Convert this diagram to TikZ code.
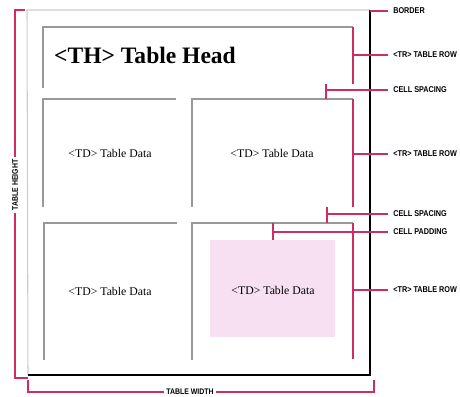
\documentclass[tikz,border=0pt]{standalone}
\usepackage{fontspec}
\setmainfont{Liberation Serif}
\newfontfamily\labelfont[FakeStretch=0.86]{Liberation Sans}
\usetikzlibrary{positioning}
\definecolor{leader}{RGB}{205,45,100}
\definecolor{padfill}{RGB}{246,224,242}

\begin{document}
\begin{tikzpicture}[
    x=0.02cm, y=-0.02cm,
    cellline/.style={draw=black!40, line width=0.6pt},
    bracket/.style={draw=leader, line width=0.6pt},
    tag/.style={anchor=west, inner sep=0pt, font=\labelfont\bfseries\fontsize{4.8}{5}\selectfont},
    tdtext/.style={font=\fontsize{6.7}{8}\selectfont},
    dimtext/.style={fill=white, inner sep=1.5pt, font=\labelfont\bfseries\fontsize{4.6}{5}\selectfont}
]
\useasboundingbox (0,0) rectangle (460,396);

% outer table and border
\draw[black!20, line width=0.6pt] (28,375) -- (27,10) -- (370,10);
\draw[line width=1.7pt] (370,10) -- (370,375) -- (28,375);

% cells: top and left edges only
\draw[cellline] (43,88) |- (353,27);
\draw[cellline] (43,207) |- (176,99);
\draw[cellline] (192,207) |- (353,99);
\draw[cellline] (44,360) |- (177,223);
\draw[cellline] (192,360) |- (353,223);
\fill[padfill] (210,240) rectangle (335,337);

\node[font=\bfseries\fontsize{13.4}{15}\selectfont] (head) at (145,55) {<TH> Table Head};
\node[tdtext] (td1) at (110,153) {<TD> Table Data};
\node[tdtext] (td2) at (272,153) {<TD> Table Data};
\node[tdtext] (td3) at (110,291) {<TD> Table Data};
\node[tdtext] (td4) at (273,290) {<TD> Table Data};

% labels on the right
\node[tag] (border) at (393,11) {BORDER};
\node[tag] (rowhead) at (393,55) {<TR> TABLE ROW};
\node[tag] (spacea) at (393,90) {CELL SPACING};
\node[tag] (rowa) at (393,154) {<TR> TABLE ROW};
\node[tag] (spaceb) at (393,214) {CELL SPACING};
\node[tag] (padding) at (393,232) {CELL PADDING};
\node[tag] (rowb) at (393,290) {<TR> TABLE ROW};

\coordinate (btop) at (370,11);
\coordinate (hmid) at (353,55);
\coordinate (sa) at (326,90);
\coordinate (ramid) at (353,154);
\coordinate (sb) at (327,214);
\coordinate (pad) at (273,232);
\coordinate (rbmid) at (353,290);

\draw[bracket] (353,27) -- (353,84);
\draw[bracket] (326,84) -- (326,99);
\draw[bracket] (353,99) -- (353,207);
\draw[bracket] (327,207) -- (327,223);
\draw[bracket] (273,223) -- (273,240);
\draw[bracket] (353,223) -- (353,359);
\draw[bracket, shorten >=3pt] (btop) -- (border.west);
\draw[bracket, shorten >=3pt] (hmid) -- (rowhead.west);
\draw[bracket, shorten >=3pt] (sa) -- (spacea.west);
\draw[bracket, shorten >=3pt] (ramid) -- (rowa.west);
\draw[bracket, shorten >=3pt] (sb) -- (spaceb.west);
\draw[bracket, shorten >=3pt] (pad) -- (padding.west);
\draw[bracket, shorten >=3pt] (rbmid) -- (rowb.west);

% table height and width
\draw[bracket] (25,10) -- (15,10) -- (15,378) -- (28,378);
\node[dimtext, rotate=90] (theight) at (15,185) {TABLE HEIGHT};
\draw[bracket] (28,380) -- (28,392) -- (374,392) -- (374,380);
\node[dimtext] (twidth) at (190,392) {TABLE WIDTH};
\end{tikzpicture}
\end{document}
